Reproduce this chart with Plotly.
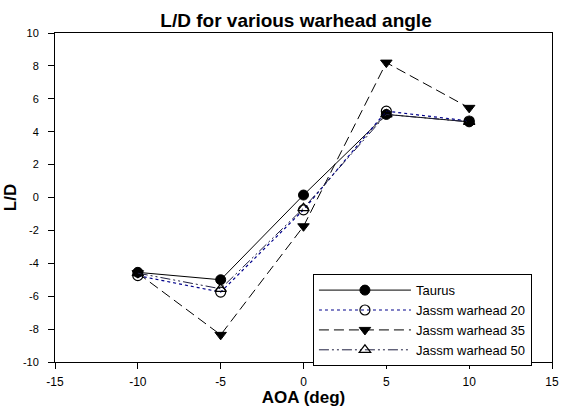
import plotly.graph_objects as go

# Angle of attack (deg) and lift-to-drag ratio for each configuration
aoa = [-10, -5, 0, 5, 10]
taurus = [-4.55, -5.0, 0.15, 5.05, 4.6]
jassm_20 = [-4.75, -5.75, -0.75, 5.25, 4.65]
jassm_35 = [-4.6, -8.35, -1.75, 8.2, 5.45]
jassm_50 = [-4.6, -5.55, -0.65, 5.05, 4.6]

x_ticks = [-15, -10, -5, 0, 5, 10, 15]
y_ticks = [-10, -8, -6, -4, -2, 0, 2, 4, 6, 8, 10]

FONT = "Liberation Sans, Arial, sans-serif"


def hyphen_labels(vals):
    # plain ASCII hyphen for negative numbers
    return [str(v) for v in vals]


series = [
    ("Taurus", taurus, dict(color="black", width=1, dash="solid"),
     dict(symbol="circle", size=10, color="black", line=dict(color="black", width=1))),
    ("Jassm warhead 20", jassm_20, dict(color="#00008b", width=1.2, dash="dot"),
     dict(symbol="circle-open", size=10, color="black", line=dict(color="black", width=1.2))),
    ("Jassm warhead 35", jassm_35, dict(color="black", width=1, dash="10px,5px"),
     dict(symbol="triangle-down", size=10, color="black", line=dict(color="black", width=1))),
    ("Jassm warhead 50", jassm_50, dict(color="#202040", width=1, dash="10px,3px,2px,3px,2px,3px"),
     dict(symbol="triangle-up-open", size=10, color="black", line=dict(color="black", width=1.2))),
]

fig = go.Figure()
for name, vals, line, marker in series:
    fig.add_trace(go.Scatter(x=aoa, y=vals, name=name, mode="lines+markers",
                             line=line, marker=marker))

axis_common = dict(
    showgrid=False, zeroline=False, showline=True, linecolor="black", linewidth=1,
    mirror=True, ticks="outside", ticklen=6, tickcolor="black", tickwidth=1,
    automargin=False,
)

fig.update_layout(
    width=566, height=407,
    margin=dict(l=55, r=14, t=33, b=45),
    paper_bgcolor="white", plot_bgcolor="white",
    title=dict(text="<b>L/D for various warhead angle</b>", x=0.485, xref="paper",
               xanchor="center", y=0.951, yanchor="middle",
               font=dict(family=FONT, size=19, color="black")),
    xaxis=dict(range=[-15, 15], tickvals=x_ticks, ticktext=hyphen_labels(x_ticks),
               tickfont=dict(family=FONT, size=12, color="black"), ticklabelstandoff=3,
               title=dict(text="<b>AOA (deg)</b>", font=dict(family=FONT, size=17, color="black"),
                          standoff=4),
               **axis_common),
    yaxis=dict(range=[-10, 10], tickvals=y_ticks, ticktext=hyphen_labels(y_ticks),
               tickfont=dict(family=FONT, size=11, color="black"), ticklabelstandoff=7,
               title=dict(text="<b>L/D</b>", font=dict(family=FONT, size=17, color="black"),
                          standoff=1),
               **axis_common),
    legend=dict(x=0.519, y=0.267, xanchor="left", yanchor="top",
                bgcolor="white", bordercolor="black", borderwidth=1,
                font=dict(family=FONT, size=13, color="black"),
                itemwidth=92, tracegroupgap=0),
    showlegend=True,
)

fig.write_html("out.html")
